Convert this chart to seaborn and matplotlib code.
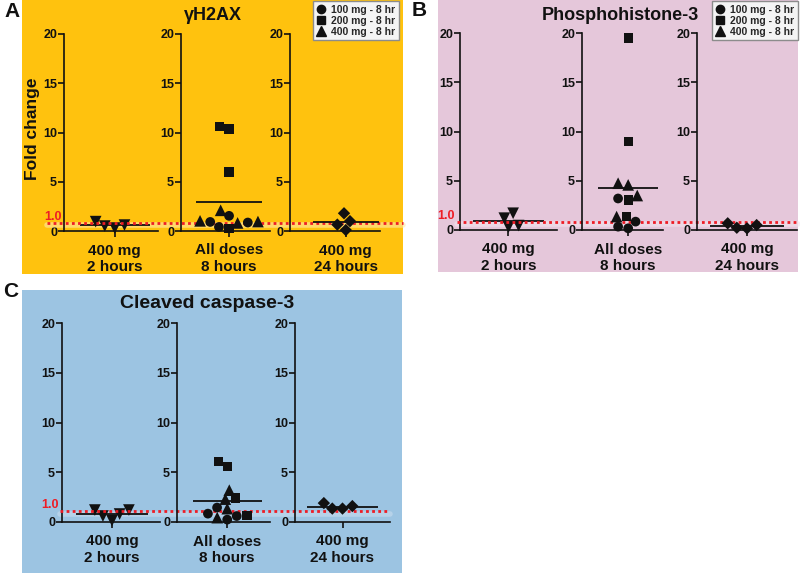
import numpy as np
import matplotlib
matplotlib.use("Agg")
import matplotlib.pyplot as plt
import seaborn as sns
from matplotlib.lines import Line2D
from matplotlib.markers import MarkerStyle
from matplotlib.patches import Rectangle
from matplotlib.transforms import Affine2D, blended_transform_factory

# ---- data (fold change) ----
group_labels = ["400 mg\n2 hours", "All doses\n8 hours", "400 mg\n24 hours"]
dose_labels = ["100 mg - 8 hr", "200 mg - 8 hr", "400 mg - 8 hr"]
y_ticks = [0, 5, 10, 15, 20]

h2ax_2h = [0.6, 0.3, 0.5, 0.95]
h2ax_8h_100 = [0.92, 0.41, 0.86, 1.54]
h2ax_8h_200 = [10.6, 10.35, 6.0, 0.28]
h2ax_8h_400 = [1.03, 0.82, 2.1, 0.96]
h2ax_24h = [1.0, 1.8, 0.1, 0.65]

ph3_2h = [1.2, 1.7, 0.3, 0.45]
ph3_8h_100 = [3.2, 0.85, 0.17, 0.34]
ph3_8h_200 = [19.5, 9.0, 3.05, 1.36]
ph3_8h_400 = [4.58, 4.75, 3.5, 1.36]
ph3_24h = [0.5, 0.17, 0.23, 0.68]

cc3_2h = [1.2, 0.6, 0.15, 0.8, 1.2]
cc3_8h_100 = [1.45, 0.84, 0.6, 0.24]
cc3_8h_200 = [5.55, 6.1, 2.42, 0.67]
cc3_8h_400 = [3.2, 2.3, 0.44, 1.34]
cc3_24h = [1.6, 1.35, 1.35, 1.9]

sns.set_style("ticks")
plt.rcParams["font.family"] = ["Liberation Sans", "DejaVu Sans"]
plt.rcParams["font.weight"] = "bold"

W, H = 800, 574
fig = plt.figure(figsize=(W / 100, H / 100), dpi=100)
ink = "#111111"


def px_rect(x0, x1, ytop, ybot):
    return [x0 / W, 1 - ybot / H, (x1 - x0) / W, (ybot - ytop) / H]


def marker_path(m):
    scale = {"o": 1.0, "s": 0.95, "^": 1.2, "v": 1.2, "D": 0.9}[m]
    ms = MarkerStyle(m)
    return ms.get_path().transformed(ms.get_transform() + Affine2D().scale(scale))


def draw_group(ax, label, values, markers, frac):
    sns.swarmplot(x=[label] * len(values), y=values, ax=ax, color=ink,
                  size=7, clip_on=False, zorder=3)
    coll = ax.collections[-1]
    coll.set_paths([marker_path(m) for m in markers])
    ax.hlines(np.mean(values), -0.37, 0.37, color=ink, lw=1.3, zorder=4)
    ax.set_xlim(-frac, 1 - frac)
    ax.set_ylim(0, 20)
    ax.set_yticks(y_ticks)
    ax.set_facecolor("none")
    sns.despine(ax=ax)
    for s in ["left", "bottom"]:
        ax.spines[s].set_linewidth(1.2)
        ax.spines[s].set_color(ink)
    ax.tick_params(axis="y", length=4, width=1.2, labelsize=9, pad=1, colors=ink)
    ax.tick_params(axis="x", length=4, width=1.2, labelsize=11, pad=5, colors=ink)
    ax.set_xlabel("")


panels = [
    dict(letter="A", title="\u03b3H2AX", bg="#FFC20E", box=(22, 403, 0, 274),
         letter_xy=(4, 2), title_xy=(213, 15), title_size=13,
         y20=34, y0=231, subs=[(64, 158, 0.54), (181, 270, 0.54), (290, 380, 0.62)],
         data=[h2ax_2h, (h2ax_8h_100, h2ax_8h_200, h2ax_8h_400), h2ax_24h],
         ref=0.85, ref_x=(47, 403), ref_lab_x=62, legend=(313, 1)),
    dict(letter="B", title="Phosphohistone-3", bg="#E5C7DA", box=(438, 798, 0, 272),
         letter_xy=(412, 1), title_xy=(620, 15), title_size=13,
         y20=33, y0=230, subs=[(460, 557, 0.5), (582, 663, 0.57), (697, 797, 0.5)],
         data=[ph3_2h, (ph3_8h_100, ph3_8h_200, ph3_8h_400), ph3_24h],
         ref=0.85, ref_x=(457, 798), ref_lab_x=455, legend=(712, 1)),
    dict(letter="C", title="Cleaved caspase-3", bg="#9CC4E2", box=(22, 402, 290, 573),
         letter_xy=(3, 282), title_xy=(207, 303), title_size=14,
         y20=323, y0=522, subs=[(62, 160, 0.51), (177, 270, 0.54), (295, 390, 0.5)],
         data=[cc3_2h, (cc3_8h_100, cc3_8h_200, cc3_8h_400), cc3_24h],
         ref=1.1, ref_x=(60, 390), ref_lab_x=59, legend=None),
]

glow = {"A": "#FFE9A8", "B": "#F2E4EE", "C": "#C9DDEE"}

for p in panels:
    x0, x1, y0, y1 = p["box"]
    fig.add_artist(Rectangle((x0 / W, 1 - y1 / H), (x1 - x0) / W, (y1 - y0) / H,
                             transform=fig.transFigure, facecolor=p["bg"],
                             edgecolor="none", zorder=0))
    fig.text(p["letter_xy"][0] / W, 1 - p["letter_xy"][1] / H, p["letter"],
             fontsize=15, fontweight="bold", ha="left", va="top", color=ink)
    fig.text(p["title_xy"][0] / W, 1 - p["title_xy"][1] / H, p["title"],
             fontsize=p["title_size"], fontweight="bold", ha="center", va="center", color=ink)

    axes = []
    for i, (sx0, sx1, frac) in enumerate(p["subs"]):
        ax = fig.add_axes(px_rect(sx0, sx1, p["y20"], p["y0"]))
        ax.set_zorder(2)
        if i == 1:
            v100, v200, v400 = p["data"][1]
            values = list(v100) + list(v200) + list(v400)
            markers = ["o"] * len(v100) + ["s"] * len(v200) + ["^"] * len(v400)
        else:
            values = p["data"][i]
            markers = ["v" if i == 0 else "D"] * len(values)
        draw_group(ax, group_labels[i], values, markers, frac)
        axes.append(ax)

    # dotted reference line at fold change 1
    ax0 = axes[0]
    blend = blended_transform_factory(fig.transFigure, ax0.transData)
    xs = [p["ref_x"][0] / W, p["ref_x"][1] / W]
    ax0.plot(xs, [p["ref"] - 0.25] * 2, transform=blend, color=glow[p["letter"]],
             lw=4, alpha=0.6, clip_on=False, zorder=1)
    ax0.plot(xs, [p["ref"]] * 2, transform=blend, color="#EE1C25", lw=2,
             ls=(0, (1, 1.2)), clip_on=False, zorder=5)
    ax0.text(p["ref_lab_x"] / W, p["ref"], "1.0", transform=blend, color="#EE1C25",
             fontsize=9, fontweight="bold", ha="right", va="bottom")

    if p["letter"] == "A":
        ax0.set_ylabel("Fold change", fontsize=12.5, fontweight="bold", color=ink)
        ax0.yaxis.set_label_coords(-0.26, 0.52)

    if p["legend"] is not None:
        handles = [Line2D([], [], ls="none", marker=m, color=ink, markersize=ms)
                   for m, ms in zip(["o", "s", "^"], [6, 6, 6.5])]
        lx, ly = p["legend"]
        fig.legend(handles, dose_labels, loc="upper left",
                   bbox_to_anchor=(lx / W, 1 - ly / H), frameon=True,
                   fancybox=False, facecolor="#F4F4F4", edgecolor="#8C8C8C",
                   framealpha=1, prop={"size": 7.5, "weight": "bold"},
                   handlelength=0.9, handletextpad=0.5, labelspacing=0.1,
                   borderpad=0.35, borderaxespad=0)

fig.savefig("out.png", dpi=100)
